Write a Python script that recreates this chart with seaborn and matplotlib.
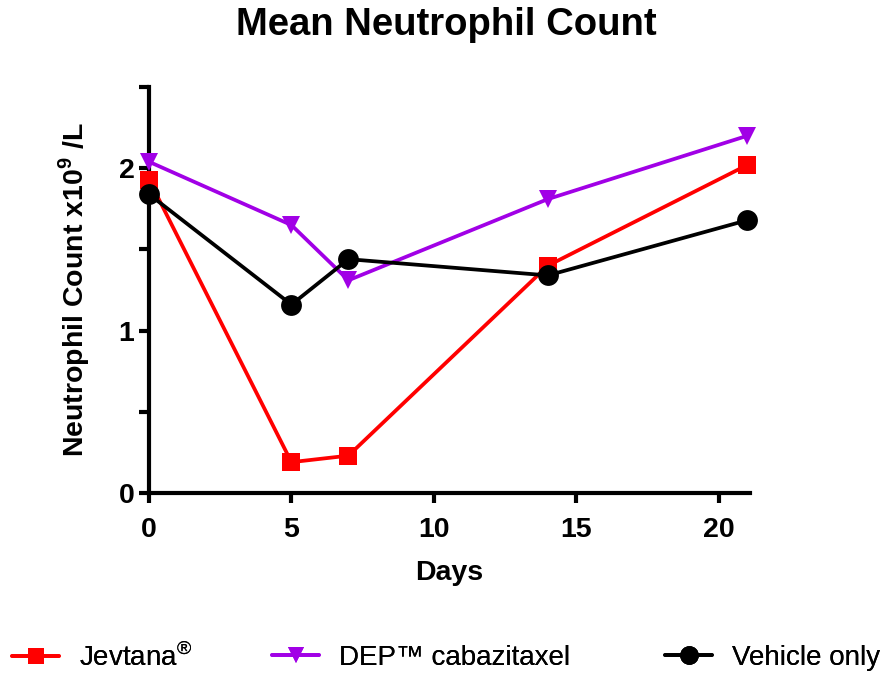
import numpy as np
import pandas as pd
import matplotlib
matplotlib.use("Agg")
import matplotlib.pyplot as plt
import seaborn as sns

days = [0, 5, 7, 14, 21]
jevtana = [1.93, 0.19, 0.23, 1.40, 2.02]
dep = [2.04, 1.65, 1.31, 1.81, 2.20]
vehicle = [1.84, 1.16, 1.44, 1.34, 1.68]

groups = [r"Jevtana$^{\mathrm{®}}$", "DEP™ cabazitaxel", "Vehicle only"]
colors = ["#ff0000", "#a100e6", "#000000"]
markers = ["s", "v", "o"]
msizes = [12.5, 13, 15]

df = pd.DataFrame({
    "Days": days * 3,
    "count": jevtana + dep + vehicle,
    "group": [groups[0]] * 5 + [groups[1]] * 5 + [groups[2]] * 5,
})

sns.set_style("ticks")
plt.rcParams["font.family"] = ["Liberation Sans", "DejaVu Sans"]
plt.rcParams["mathtext.fontset"] = "custom"
plt.rcParams["mathtext.rm"] = "Liberation Sans"
plt.rcParams["mathtext.bf"] = "Liberation Sans:bold"
plt.rcParams["text.color"] = "black"
plt.rcParams["axes.labelcolor"] = "black"
plt.rcParams["xtick.color"] = "black"
plt.rcParams["ytick.color"] = "black"
plt.rcParams["axes.edgecolor"] = "black"

fig = plt.figure(figsize=(8.92, 6.8), dpi=100)
ax = fig.add_axes([0.167, 0.275, 0.674, 0.597])

for g, c, m, ms in zip(groups, colors, markers, msizes):
    sns.lineplot(data=df[df.group == g], x="Days", y="count", color=c,
                 marker=m, markersize=ms, markeredgewidth=0, linewidth=2.7,
                 clip_on=False, zorder=3, ax=ax, legend=False)

ax.set_xlim(0, 21.1)
ax.set_ylim(0, 2.5)
ax.set_xticks([0, 5, 10, 15, 20])
ax.set_yticks([0, 1, 2])
ax.set_yticks([0.5, 1.5, 2.5], minor=True)
sns.despine(ax=ax)
for s in ["left", "bottom"]:
    ax.spines[s].set_linewidth(3)
ax.tick_params(which="both", width=3, length=7.5, labelsize=20.5)
ax.tick_params(axis="x", pad=10)
ax.tick_params(axis="y", pad=3)
for lbl in ax.get_xticklabels() + ax.get_yticklabels():
    lbl.set_fontweight("bold")

ax.set_xlabel("Days", fontsize=20.5, fontweight="bold", labelpad=12)
ax.set_ylabel(r"Neutrophil Count x10$^{\mathbf{9}}$ /L", fontsize=20.5, fontweight="bold", labelpad=19)
fig.suptitle("Mean Neutrophil Count", fontsize=27.5, fontweight="bold", y=0.99)

# one legend entry per column, placed like the original
legend_x = [12 / 892, 272 / 892, 665 / 892]
for g, c, m, ms, lx in zip(groups, colors, markers, msizes, legend_x):
    h = plt.Line2D([], [], color=c, marker=m, linewidth=2.7, markersize=ms * 0.9, markeredgewidth=0)
    leg = fig.legend([h], [g], loc="center left", bbox_to_anchor=(lx, 0.033),
                     frameon=False, fontsize=20, handlelength=1.7, handletextpad=0.7,
                     borderpad=0, borderaxespad=0)
    fig.add_artist(leg)

fig.savefig("out.png", dpi=100)
